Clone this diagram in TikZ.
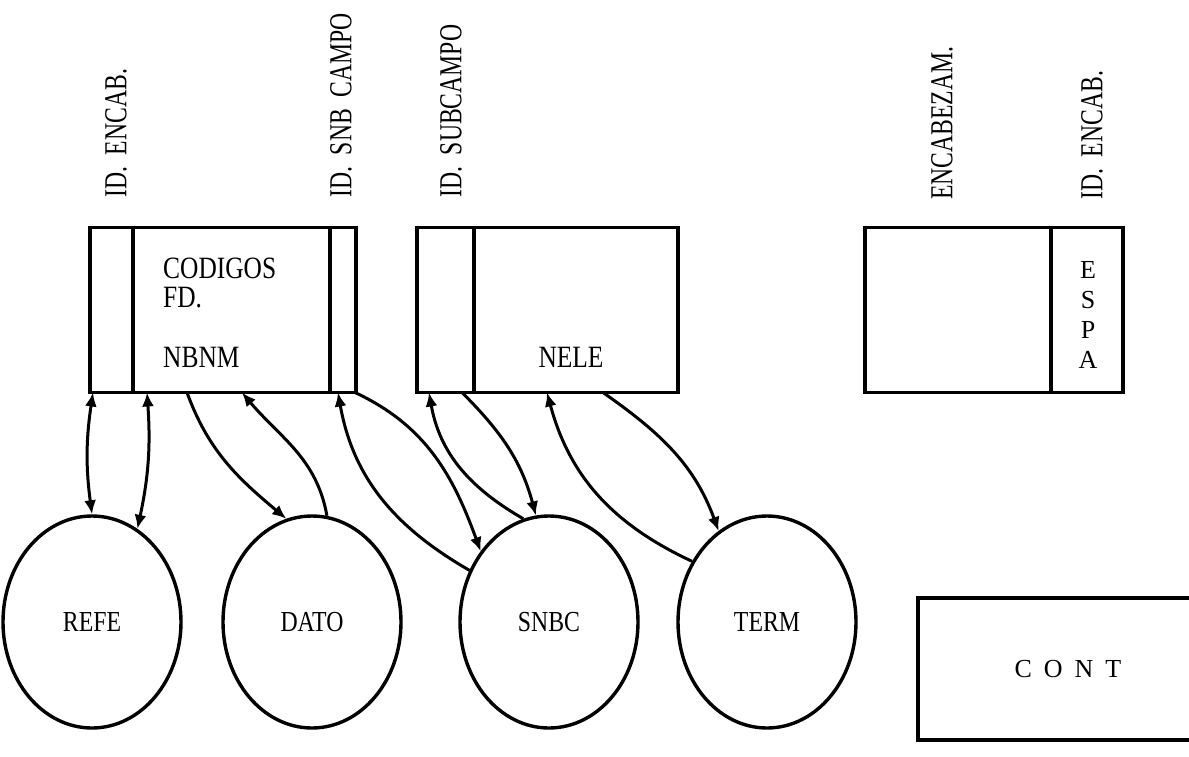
\documentclass[tikz,border=0pt]{standalone}
\usepackage{fontspec}
\setmainfont{Liberation Serif}[FakeStretch=0.82]
\newfontfamily\plainfont{Liberation Serif}
\newfontfamily\narrowfont{Liberation Serif}[FakeStretch=0.74]
\usetikzlibrary{arrows.meta,shapes.geometric}
\begin{document}
\begin{tikzpicture}[x=1pt,y=-1pt]

    \tikzset{
      box/.style={draw, line width=3.8pt, inner sep=0pt, outer sep=0pt},
      divider/.style={line width=3.8pt},
      ent/.style={draw, ellipse, line width=3.4pt, minimum width=178pt,
        minimum height=212pt, inner sep=0pt, font=\fontsize{29}{34}\selectfont},
      vlabel/.style={rotate=90, anchor=west, inner sep=0pt,
        font=\narrowfont\fontsize{32}{38}\selectfont},
      txt/.style={inner sep=0pt, font=\fontsize{31}{36}\selectfont},
      link/.style={line width=3pt, -{Latex[length=14pt,width=12pt]}},
      both/.style={line width=3pt,
        {Latex[length=14pt,width=12pt]}-{Latex[length=14pt,width=12pt]}},
    }
    \useasboundingbox (0,0) rectangle (1189,756);

    % registros
    \node[box, minimum width=266pt, minimum height=165pt] (reg1) at (223,310) {};
    \node[box, minimum width=261pt, minimum height=165pt] (reg2) at (547.5,310) {};
    \node[box, minimum width=258pt, minimum height=165pt] (reg3) at (994,310) {};
    \draw[divider] ([xshift=43pt]reg1.north west) -- ([xshift=43pt]reg1.south west);
    \draw[divider] ([xshift=-26pt]reg1.north east) -- ([xshift=-26pt]reg1.south east);
    \draw[divider] ([xshift=57pt]reg2.north west) -- ([xshift=57pt]reg2.south west);
    \draw[divider] ([xshift=-72pt]reg3.north east) -- ([xshift=-72pt]reg3.south east);

    \node[txt, anchor=west] (codigos) at (163,268) {CODIGOS};
    \node[txt, anchor=west] (fd) at (163,298) {FD.};
    \node[txt, anchor=west] (nbnm) at (163,357) {NBNM};
    \node[txt] (nele) at (571,357) {NELE};
    \node[txt, align=center, font=\plainfont\fontsize{26}{30}\selectfont] (espa) at (1088,315) {E\\S\\P\\A};

    % cabeceras
    \node[vlabel] (idencab) at (116,198) {ID.\ \ ENCAB.};
    \node[vlabel] (idsnb) at (341,198) {ID.\ \ SNB\ \ CAMPO};
    \node[vlabel] (idsub) at (451,198) {ID.\ \ SUBCAMPO};
    \node[vlabel] (encabezam) at (942,200) {ENCABEZAM.};
    \node[vlabel] (idencab2) at (1092,200) {ID.\ \ ENCAB.};

    % entidades
    \node[ent] (refe) at (92,622) {REFE};
    \node[ent] (dato) at (312,622) {DATO};
    \node[ent] (snbc) at (549,622) {SNBC};
    \node[ent] (term) at (767,622) {TERM};

    \node[box, minimum width=300pt, minimum height=142pt,
      font=\plainfont\fontsize{26}{30}\selectfont] (cont) at (1068,669)
      {C\hspace{12pt}O\hspace{12pt}N\hspace{12pt}T};

    % enlaces
    \draw[both] ([xshift=3pt]reg1.south west) to[bend right=8] (refe.90);
    \draw[both] ([xshift=57pt]reg1.south west) to[bend left=8] (refe.64);
    \draw[link] ([xshift=97pt]reg1.south west) to[out=-70, in=140] (dato.104);
    \draw[link] (dato.82) to[out=100, in=-50] ([xshift=152pt]reg1.south west);
    \draw[link] (snbc.147) to[out=150, in=-80] ([xshift=-18pt]reg1.south east);
    \draw[link] ([xshift=-1pt]reg1.south east) to[out=-25, in=110] (snbc.134);
    \draw[link] (snbc.104) to[out=150, in=-80] ([xshift=12pt]reg2.south west);
    \draw[link] ([xshift=45pt]reg2.south west) to[out=-45, in=105] (snbc.97);
    \draw[link] (term.141) to[out=155, in=-75] ([xshift=130pt]reg2.south west);
    \draw[link] ([xshift=186pt]reg2.south west) to[out=-35, in=110] (term.118);

\end{tikzpicture}
\end{document}
